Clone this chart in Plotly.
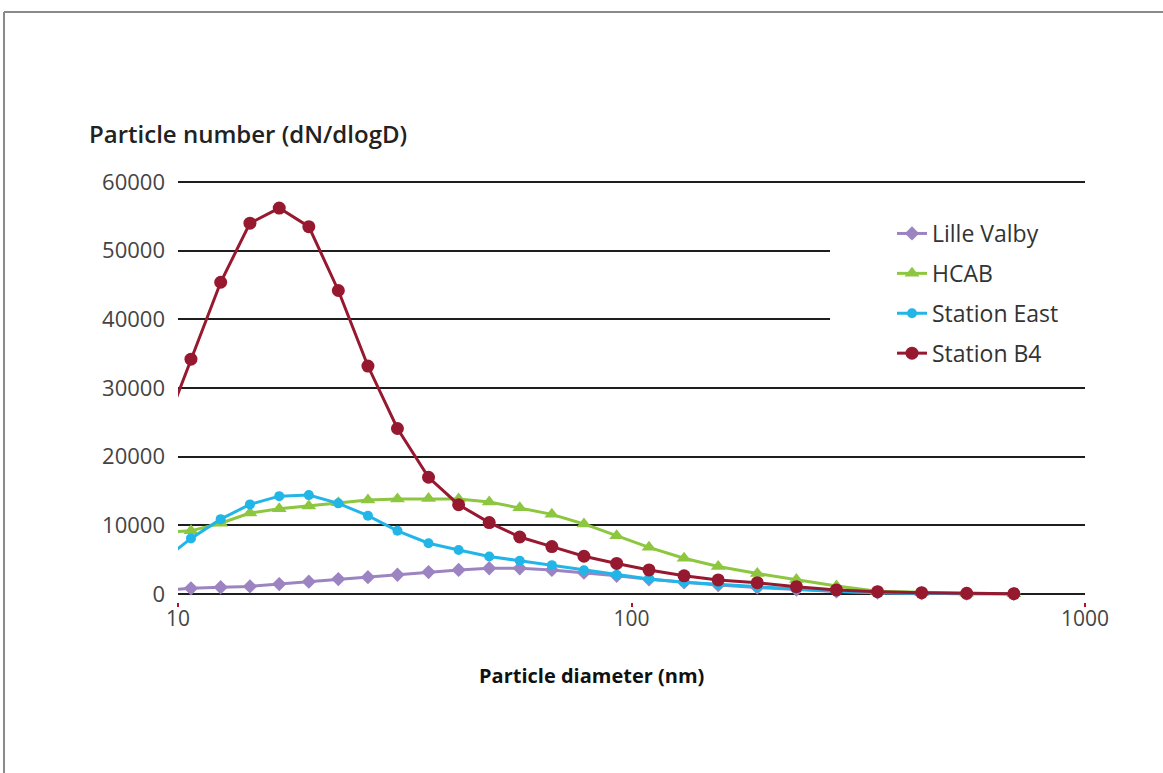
import plotly.graph_objects as go

# Particle diameters (nm); the first channel lies just below the 10 nm axis start
diameters = [9.17, 10.68, 12.42, 14.41, 16.72, 19.43, 22.57, 26.23, 30.47, 35.68,
             41.57, 48.56, 56.70, 66.74, 78.55, 92.75, 109.3, 130.6, 155.3, 189.4,
             231.0, 283.1, 348.8, 436.3, 548.4, 696.8]

lille_valby = [530, 830, 980, 1100, 1450, 1800, 2180, 2450, 2800, 3200,
               3500, 3750, 3750, 3500, 3100, 2650, 2150, 1700, 1300, 950,
               650, 380, 200, 100, 50, 20]
hcab = [9000, 9200, 10300, 11800, 12400, 12800, 13300, 13700, 13850, 13900,
        13850, 13400, 12550, 11600, 10200, 8500, 6800, 5200, 4000, 3000,
        2100, 1150, 400, 200, 100, 50]
station_east = [4650, 8100, 10900, 13050, 14250, 14400, 13200, 11400, 9200, 7400,
                6400, 5450, 4850, 4200, 3450, 2780, 2200, 1700, 1400, 1000,
                700, 400, 200, 100, 50, 20]
station_b4 = [22700, 34200, 45400, 54000, 56200, 53500, 44200, 33200, 24100, 17000,
              13000, 10400, 8300, 6900, 5500, 4450, 3500, 2650, 2050, 1650,
              1060, 600, 340, 190, 100, 50]

series_names = ["Lille Valby", "HCAB", "Station East", "Station B4"]
x_tickvals = [10, 100, 1000]
x_ticktext = ["10", "100", "1000"]
y_tickvals = [0, 10000, 20000, 30000, 40000, 50000, 60000]
y_ticktext = ["0", "10000", "20000", "30000", "40000", "50000", "60000"]

styles = [
    dict(color="#9C84C2", symbol="diamond", size=11),
    dict(color="#8DC63F", symbol="triangle-up", size=13),
    dict(color="#22B5E8", symbol="circle", size=10),
    dict(color="#97192F", symbol="circle", size=13),
]

fig = go.Figure()
for name, vals, st in zip(series_names, [lille_valby, hcab, station_east, station_b4], styles):
    fig.add_trace(go.Scatter(
        x=diameters, y=vals, name=name, mode="lines+markers",
        legendgroup=name,
        line=dict(color=st["color"], width=3),
        marker=dict(color=st["color"], symbol=st["symbol"], size=st["size"]),
    ))

W, H = 1163, 773
L, R, T, B = 178, 78, 180, 171
plot_w = W - L - R
plot_h = H - T - B

def px_x(px):
    return (px - L) / plot_w

def px_y(py):
    return (H - B - py) / plot_h

fig.update_layout(
    width=W, height=H,
    margin=dict(l=L, r=R, t=T, b=B),
    paper_bgcolor="white", plot_bgcolor="white",
    font=dict(family="Open Sans, Lato, sans-serif", color="#444"),
    showlegend=True,
    legend=dict(
        x=px_x(892), y=px_y(212), xanchor="left", yanchor="top",
        bgcolor="rgba(0,0,0,0)",
        font=dict(size=23, color="#333"),
        tracegroupgap=7,
    ),
    xaxis=dict(
        type="log", range=[1, 3],
        tickmode="array", tickvals=x_tickvals, ticktext=x_ticktext,
        showgrid=False, zeroline=False, showline=False,
        ticks="outside", ticklen=4, tickwidth=2, tickcolor="#B0122A",
        ticklabelstandoff=-6,
        tickfont=dict(size=21, color="#444"),
    ),
    yaxis=dict(
        range=[-1165, 60291],
        tickmode="array", tickvals=y_tickvals, ticktext=y_ticktext,
        showgrid=True, gridcolor="#1e1e1e", gridwidth=2,
        zeroline=True, zerolinecolor="#1e1e1e", zerolinewidth=2,
        showline=False, ticks="",
        ticklabelstandoff=12,
        tickfont=dict(size=22, color="#444"),
    ),
    annotations=[
        dict(text="Particle number (dN/dlogD)", xref="paper", yref="paper",
             x=px_x(87), y=px_y(133), xanchor="left", yanchor="middle",
             showarrow=False, font=dict(size=24, color="#222", weight=600)),
        dict(text="Particle diameter (nm)", xref="paper", yref="paper",
             x=px_x(591), y=px_y(675), xanchor="center", yanchor="middle",
             showarrow=False, font=dict(size=20, color="#111", weight=700)),
    ],
    shapes=[
        # white panel behind the legend that interrupts the gridlines
        dict(type="rect", xref="paper", yref="paper",
             x0=px_x(830), x1=px_x(1090), y0=px_y(368), y1=px_y(205),
             fillcolor="white", line=dict(width=0), layer="above"),
        # outer frame (top and left edges)
        dict(type="line", xref="paper", yref="paper",
             x0=px_x(4), x1=px_x(1170), y0=px_y(12), y1=px_y(12),
             line=dict(color="#8a8a8a", width=2)),
        dict(type="line", xref="paper", yref="paper",
             x0=px_x(4), x1=px_x(4), y0=px_y(12), y1=px_y(780),
             line=dict(color="#8a8a8a", width=2)),
    ],
)

fig.write_html("out.html")
